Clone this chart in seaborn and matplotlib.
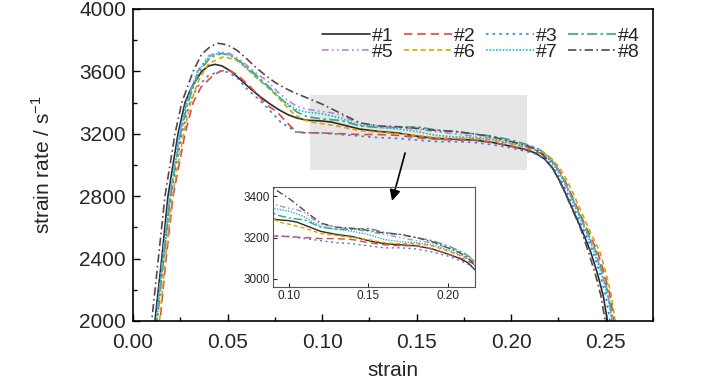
import numpy as np
import pandas as pd
import seaborn as sns
import matplotlib.pyplot as plt
from matplotlib.patches import Rectangle
from matplotlib.ticker import MultipleLocator

# strain / strain-rate curves
strain_1 = [0.0112, 0.0116, 0.0152, 0.0185, 0.0238, 0.0275, 0.031, 0.0363, 0.040, 0.0434, 0.047, 0.052, 0.057,
            0.062, 0.067, 0.072, 0.077, 0.082, 0.087, 0.092, 0.100, 0.105, 0.110, 0.115, 0.120, 0.130, 0.140,
            0.150, 0.160, 0.170, 0.180, 0.190, 0.200, 0.207, 0.2125, 0.2175, 0.2218, 0.2258, 0.2298, 0.2338,
            0.2378, 0.2421, 0.2457, 0.2487, 0.2509, 0.2515]
rate_1 = [1950, 2000, 2400, 2800, 3200, 3400, 3500, 3600, 3635, 3645, 3635, 3600, 3545,
          3490, 3440, 3395, 3355, 3322, 3300, 3287, 3282, 3275, 3260, 3245, 3230, 3215, 3205,
          3185, 3170, 3165, 3160, 3145, 3120, 3100, 3078, 3040, 2980, 2895, 2790, 2680,
          2570, 2440, 2300, 2160, 2000, 1950]

strain_2 = [0.0139, 0.0143, 0.0175, 0.0212, 0.0275, 0.0318, 0.036, 0.042, 0.046, 0.050, 0.055, 0.062, 0.0707,
            0.076, 0.080, 0.084, 0.087, 0.090, 0.100, 0.110, 0.120, 0.130, 0.140, 0.150, 0.160, 0.170,
            0.180, 0.190, 0.200, 0.210, 0.2155, 0.2205, 0.2248, 0.2288, 0.2328, 0.2368, 0.2408, 0.2458,
            0.2493, 0.2523, 0.2545, 0.2550]
rate_2 = [1950, 2000, 2400, 2800, 3200, 3400, 3500, 3570, 3600, 3610, 3580, 3502, 3385,
          3342, 3290, 3240, 3212, 3207, 3205, 3200, 3195, 3195, 3190, 3175, 3165, 3160,
          3160, 3145, 3120, 3095, 3075, 3035, 2975, 2890, 2785, 2675, 2570, 2440,
          2300, 2160, 2000, 1950]

strain_3 = [0.0121, 0.0125, 0.0162, 0.0200, 0.0258, 0.030, 0.034, 0.040, 0.046, 0.050, 0.055, 0.060, 0.067,
            0.0755, 0.079, 0.082, 0.0855, 0.090, 0.100, 0.110, 0.120, 0.130, 0.140, 0.150, 0.160, 0.170,
            0.180, 0.190, 0.200, 0.207, 0.2135, 0.2185, 0.2228, 0.2268, 0.2308, 0.2348, 0.2388, 0.2434,
            0.2470, 0.2500, 0.2522, 0.2528]
rate_3 = [1950, 2000, 2400, 2800, 3200, 3400, 3500, 3575, 3600, 3595, 3560, 3490, 3415,
          3310, 3262, 3250, 3212, 3208, 3205, 3195, 3185, 3175, 3170, 3160, 3150, 3150,
          3145, 3130, 3110, 3090, 3068, 3030, 2972, 2890, 2785, 2675, 2570, 2440,
          2300, 2160, 2000, 1950]

strain_4 = [0.0124, 0.0128, 0.0162, 0.0198, 0.0252, 0.0290, 0.0350, 0.041, 0.047, 0.052, 0.057, 0.062, 0.067,
            0.072, 0.077, 0.082, 0.087, 0.092, 0.100, 0.110, 0.120, 0.130, 0.140, 0.150, 0.160, 0.170,
            0.180, 0.190, 0.200, 0.210, 0.2148, 0.2198, 0.2243, 0.2283, 0.2323, 0.2363, 0.2403, 0.2450,
            0.2486, 0.2516, 0.2538, 0.2543]
rate_4 = [1950, 2000, 2400, 2800, 3200, 3400, 3600, 3690, 3715, 3700, 3660, 3610, 3555,
          3500, 3440, 3382, 3337, 3310, 3295, 3285, 3250, 3240, 3240, 3245, 3225, 3215,
          3200, 3185, 3160, 3125, 3100, 3055, 2985, 2895, 2790, 2680, 2570, 2440,
          2300, 2160, 2000, 1950]

strain_5 = [0.0118, 0.0122, 0.0156, 0.0193, 0.0245, 0.0282, 0.0340, 0.040, 0.046, 0.051, 0.056, 0.061, 0.066,
            0.071, 0.076, 0.081, 0.086, 0.091, 0.100, 0.105, 0.110, 0.115, 0.120, 0.130, 0.140, 0.150,
            0.160, 0.170, 0.180, 0.190, 0.200, 0.210, 0.2148, 0.2196, 0.2240, 0.2280, 0.2320, 0.2360,
            0.2400, 0.2446, 0.2482, 0.2513, 0.2535, 0.2541]
rate_5 = [1950, 2000, 2400, 2800, 3200, 3400, 3600, 3700, 3725, 3715, 3680, 3630, 3580,
          3540, 3475, 3422, 3380, 3360, 3342, 3335, 3320, 3290, 3265, 3250, 3240, 3230,
          3215, 3200, 3185, 3175, 3150, 3120, 3098, 3052, 2982, 2895, 2790, 2680,
          2570, 2440, 2300, 2160, 2000, 1950]

strain_6 = [0.0136, 0.0140, 0.0172, 0.0208, 0.0268, 0.0305, 0.035, 0.040, 0.048, 0.055, 0.060, 0.065, 0.070,
            0.075, 0.080, 0.085, 0.090, 0.095, 0.100, 0.110, 0.120, 0.130, 0.140, 0.150, 0.160, 0.170,
            0.180, 0.190, 0.200, 0.210, 0.2165, 0.2215, 0.2258, 0.2298, 0.2338, 0.2378, 0.2418, 0.2470,
            0.2503, 0.2530, 0.2550, 0.2556]
rate_6 = [1950, 2000, 2400, 2800, 3200, 3400, 3550, 3650, 3695, 3670, 3620, 3562, 3510,
          3455, 3390, 3328, 3290, 3273, 3265, 3245, 3220, 3210, 3200, 3190, 3175, 3170,
          3170, 3160, 3135, 3105, 3082, 3040, 2978, 2895, 2790, 2680, 2570, 2440,
          2300, 2160, 2000, 1950]

strain_7 = [0.0121, 0.0125, 0.0159, 0.0196, 0.0249, 0.0286, 0.0344, 0.040, 0.046, 0.051, 0.056, 0.061, 0.066,
            0.071, 0.076, 0.081, 0.086, 0.091, 0.100, 0.105, 0.110, 0.115, 0.120, 0.130, 0.140, 0.150,
            0.160, 0.170, 0.180, 0.190, 0.200, 0.210, 0.2145, 0.2193, 0.2236, 0.2276, 0.2316, 0.2356,
            0.2396, 0.2440, 0.2478, 0.2510, 0.2532, 0.2538]
rate_7 = [1950, 2000, 2400, 2800, 3200, 3400, 3600, 3690, 3720, 3705, 3665, 3610, 3555,
          3505, 3448, 3398, 3358, 3340, 3328, 3315, 3300, 3275, 3255, 3240, 3230, 3215,
          3190, 3180, 3175, 3165, 3140, 3110, 3088, 3045, 2980, 2895, 2790, 2680,
          2570, 2440, 2300, 2160, 2000, 1950]

strain_8 = [0.0095, 0.0099, 0.0134, 0.0169, 0.0222, 0.0258, 0.0318, 0.0363, 0.041, 0.045, 0.050, 0.055, 0.060,
            0.065, 0.070, 0.075, 0.080, 0.085, 0.090, 0.095, 0.100, 0.105, 0.110, 0.115, 0.120, 0.130,
            0.140, 0.150, 0.160, 0.170, 0.180, 0.190, 0.200, 0.207, 0.212, 0.2165, 0.2205, 0.2245, 0.2285,
            0.2325, 0.2365, 0.2409, 0.2445, 0.2475, 0.2497, 0.2503]
rate_8 = [1950, 2000, 2400, 2800, 3200, 3400, 3600, 3710, 3760, 3780, 3770, 3735, 3682,
          3625, 3575, 3530, 3495, 3465, 3440, 3415, 3390, 3360, 3330, 3300, 3270, 3250,
          3245, 3235, 3222, 3215, 3200, 3180, 3150, 3128, 3105, 3070, 3010, 2925, 2820,
          2710, 2600, 2440, 2300, 2160, 2000, 1950]

labels = ['#1', '#2', '#3', '#4', '#5', '#6', '#7', '#8']
strains = [strain_1, strain_2, strain_3, strain_4, strain_5, strain_6, strain_7, strain_8]
rates = [rate_1, rate_2, rate_3, rate_4, rate_5, rate_6, rate_7, rate_8]

colors = ['#2b2b2b', '#e8453c', '#3d7fd9', '#35a583', '#b389d1', '#d9a400', '#19bcd1', '#5a4848']
styles = ['-', (0, (5, 3)), (0, (1.5, 2.5)), (0, (6, 2, 1.5, 2)), (0, (4, 2, 1, 2, 1, 2)),
          (0, (3, 2)), (0, (1, 1)), (0, (5, 2, 1, 2))]

# zoomed window
zoom_x = (0.09, 0.217)
zoom_y = (2960, 3445)

sns.set_style('ticks')
plt.rcParams['font.family'] = ['Liberation Sans Narrow', 'Liberation Sans', 'DejaVu Sans']
plt.rcParams['mathtext.fontset'] = 'custom'
plt.rcParams['mathtext.rm'] = 'Liberation Sans'

fig = plt.figure(figsize=(7.28, 3.90), dpi=100)
ax = fig.add_axes([0.1827, 0.177, 0.7143, 0.80])

for s, r, lab, c, ls in zip(strains, rates, labels, colors, styles):
    df = pd.DataFrame({'strain': s, 'rate': r})
    sns.lineplot(data=df, x='strain', y='rate', ax=ax, color=c, linestyle=ls, lw=1.2,
                 label=lab, sort=False, estimator=None)

ax.add_patch(Rectangle((zoom_x[0] + 0.0036, zoom_y[0] + 5), zoom_x[1] - zoom_x[0] - 0.0122,
                       zoom_y[1] - zoom_y[0], color='#e6e6e6', zorder=0, lw=0))

ax.set_xlim(0, 0.275)
ax.set_ylim(2000, 4000)
ax.xaxis.set_major_locator(MultipleLocator(0.05))
ax.xaxis.set_minor_locator(MultipleLocator(0.025))
ax.yaxis.set_major_locator(MultipleLocator(400))
ax.yaxis.set_minor_locator(MultipleLocator(200))
ax.xaxis.set_major_formatter(plt.FuncFormatter(lambda v, p: f'{v:.2f}'))
ax.tick_params(which='both', direction='in', labelsize=15, width=1, color='black')
ax.tick_params(which='major', length=5)
ax.tick_params(which='minor', length=3)
ax.tick_params(axis='x', pad=9)
ax.tick_params(axis='y', pad=5)
for sp in ax.spines.values():
    sp.set_linewidth(1.2)
    sp.set_color('black')
ax.set_xlabel('strain', fontsize=15, labelpad=6)
ax.set_ylabel(r'strain rate / s$^{\mathregular{-1}}$', fontsize=15, labelpad=18)

# legend filled row by row: #1..#4 on top, #5..#8 below
handles, labs = ax.get_legend_handles_labels()
order = [0, 4, 1, 5, 2, 6, 3, 7]
ax.legend([handles[i] for i in order], [labs[i] for i in order],
          loc='upper right', bbox_to_anchor=(0.975, 0.94), ncol=4, frameon=False, fontsize=14,
          handlelength=2.5, handletextpad=0.1, columnspacing=0.5, labelspacing=-0.1,
          borderaxespad=0, borderpad=0)

ax.annotate('', xy=(0.137, 2770), xytext=(0.1439, 3077),
            arrowprops=dict(arrowstyle='-|>', color='black', lw=1.2, mutation_scale=16,
                            shrinkA=0, shrinkB=0))

# inset with the zoomed plateau (transparent so the arrow tip stays visible)
ins = fig.add_axes([0.375, 0.264, 0.2775, 0.2564])
ins.set_facecolor('none')
for s, r, c, ls in zip(strains, rates, colors, styles):
    df = pd.DataFrame({'strain': s, 'rate': r})
    sns.lineplot(data=df, x='strain', y='rate', ax=ins, color=c, linestyle=ls, lw=1.0,
                 sort=False, estimator=None, legend=False)
ins.set_xlim(*zoom_x)
ins.set_ylim(*zoom_y)
ins.xaxis.set_major_locator(MultipleLocator(0.05))
ins.yaxis.set_major_locator(MultipleLocator(200))
ins.xaxis.set_major_formatter(plt.FuncFormatter(lambda v, p: f'{v:.2f}'))
ins.tick_params(direction='in', labelsize=8.5, length=3, width=0.8, pad=2)
ins.set_xlabel('')
ins.set_ylabel('')
for sp in ins.spines.values():
    sp.set_linewidth(0.8)
    sp.set_color('#555555')

fig.savefig('out.png', dpi=100)
